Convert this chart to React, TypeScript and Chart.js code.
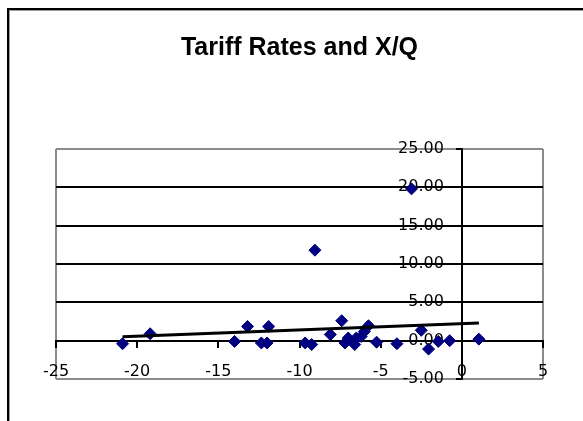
import React, { useEffect, useRef } from "react";
import { Chart, registerables } from "chart.js";

Chart.register(...registerables);

const titleText = "Tariff Rates and X/Q";

const xValues = [
  -20.9, -19.2, -14.0, -13.2, -12.35, -12.0, -11.9,
  -9.65, -9.25, -9.05, -8.1, -7.4, -7.2, -7.0, -6.6, -6.5, -6.2, -6.0, -5.75,
  -5.25, -4.0, -3.1, -2.5, -2.05, -1.45, -0.75, 1.05,
];
const yValues = [
  -0.4, 0.9, -0.1, 1.85, -0.3, -0.3, 1.85,
  -0.3, -0.5, 11.8, 0.8, 2.6, -0.3, 0.35, -0.5, 0.35, 0.55, 1.2, 1.95,
  -0.2, -0.4, 19.8, 1.35, -1.1, -0.1, 0.0, 0.2,
];

const trendX = [-20.9, 1.05];
const trendY = [0.5, 2.3];

const xTicks = [-25, -20, -15, -10, -5, 0, 5];
const yTicks = [-5, 0, 5, 10, 15, 20, 25];

const Y_LABEL_GAP = 18;

const framePlugin = {
  id: "frame",
  beforeDraw(chart: any) {
    const ctx = chart.ctx;
    ctx.save();
    ctx.fillStyle = "#ffffff";
    ctx.fillRect(0, 0, chart.width, chart.height);
    ctx.fillStyle = "#000000";
    ctx.fillRect(7, 8, 2, chart.height);
    ctx.fillRect(7, 8, chart.width, 2);
    ctx.fillStyle = "#9a9a9a";
    ctx.fillRect(9, 10, 1, chart.height);
    ctx.fillRect(9, 10, chart.width, 1);
    ctx.restore();
    // move y tick labels to the left of the crossing axis
    const ys = chart.scales.y;
    if (ys && !ys._labelsShifted) {
      const items = ys.getLabelItems(chart.chartArea);
      items.forEach((it: any) => {
        if (it.options && it.options.translation) {
          it.options.translation = [it.options.translation[0] - Y_LABEL_GAP, it.options.translation[1]];
        }
      });
      ys._labelsShifted = true;
    }
  },
};

export default function App() {
  const ref = useRef<HTMLCanvasElement>(null);
  useEffect(() => {
    if (!ref.current) return;
    const points = xValues.map((x, i) => ({ x, y: yValues[i] }));
    const trend = trendX.map((x, i) => ({ x, y: trendY[i] }));
    const chart = new Chart(ref.current, {
      type: "scatter",
      data: {
        datasets: [
          {
            label: "Trend",
            data: trend,
            showLine: true,
            borderColor: "#000000",
            borderWidth: 3,
            pointRadius: 0,
            fill: false,
          } as any,
          {
            label: "X/Q",
            data: points,
            pointStyle: "rectRot",
            pointRadius: 6,
            pointBackgroundColor: "#000080",
            pointBorderColor: "#000080",
            pointBorderWidth: 1,
            showLine: false,
          } as any,
        ],
      },
      options: {
        responsive: false,
        animation: false,
        devicePixelRatio: 1,
        layout: { padding: { left: 56, right: 40, top: 0, bottom: 42 } },
        plugins: {
          legend: { display: false },
          tooltip: { enabled: false },
          title: {
            display: true,
            text: titleText,
            color: "#000000",
            font: { family: "'Liberation Sans', Arial, sans-serif", size: 25, weight: "bold", lineHeight: 1.2 },
            padding: { top: 33, bottom: 86 },
          },
        },
        scales: {
          x: {
            type: "linear",
            position: { y: 0 } as any,
            min: -25,
            max: 5,
            afterBuildTicks: (s: any) => {
              s.ticks = xTicks.map((v) => ({ value: v }));
            },
            ticks: {
              color: "#000000",
              font: { family: "'DejaVu Sans', sans-serif", size: 16 },
              padding: 16,
              maxRotation: 0,
              autoSkip: false,
              callback: (v: any) => String(v),
            },
            grid: {
              drawOnChartArea: true,
              drawTicks: true,
              tickLength: 6,
              lineWidth: 2,
              tickColor: "#000000",
              color: (c: any) =>
                c.tick && (c.tick.value === -25 || c.tick.value === 5) ? "#8c8c8c" : "rgba(0,0,0,0)",
            },
            border: { display: true, color: "#000000", width: 2 },
          },
          y: {
            type: "linear",
            position: { x: 0 } as any,
            min: -5,
            max: 25,
            afterBuildTicks: (s: any) => {
              s.ticks = yTicks.map((v) => ({ value: v }));
            },
            ticks: {
              color: "#000000",
              font: { family: "'DejaVu Sans', sans-serif", size: 16 },
              padding: 13,
              autoSkip: false,
              callback: (v: any) => Number(v).toFixed(2),
            },
            grid: {
              drawOnChartArea: true,
              drawTicks: true,
              tickLength: 5,
              lineWidth: 2,
              tickColor: "#000000",
              color: (c: any) =>
                c.tick && (c.tick.value === 25 || c.tick.value === -5) ? "#8c8c8c" : "#000000",
            },
            border: { display: true, color: "#000000", width: 2 },
          },
        },
      },
      plugins: [framePlugin],
    });
    return () => chart.destroy();
  }, []);
  return (
    <div style={{ position: "absolute", left: 0, top: 0, width: 583, height: 421 }}>
      <canvas ref={ref} width={583} height={421} style={{ display: "block" }} />
    </div>
  );
}
